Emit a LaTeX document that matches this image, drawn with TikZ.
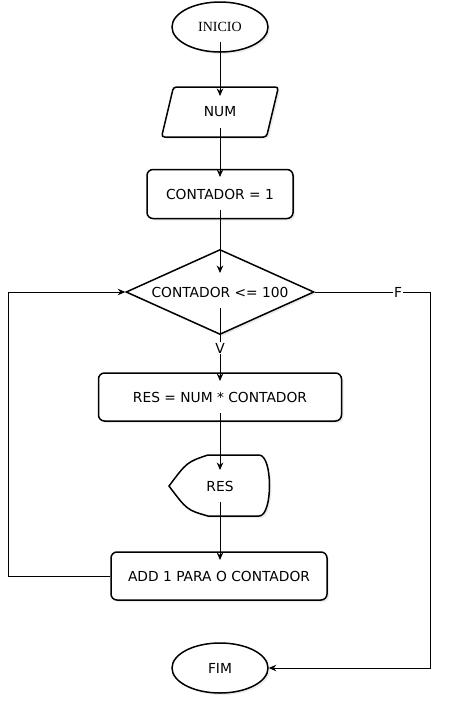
\documentclass[tikz,border=0pt]{standalone}
\usepackage{fontspec}
\setmainfont{DejaVu Sans}
\newfontfamily\inicioFont{Liberation Serif}
\usetikzlibrary{shapes.geometric,arrows.meta,shadows}

\tikzset{
  sombra/.style={drop shadow={opacity=0.15, shadow xshift=2pt, shadow yshift=-2pt}},
  texto/.style={font=\fontsize{13.8}{16}\selectfont},
  caixa/.style={draw, line width=1.5pt, rounded corners=6pt, fill=white, sombra, texto},
  terminal/.style={draw, ellipse, line width=1.5pt, fill=white, sombra, minimum width=96pt, minimum height=50pt, inner sep=0pt},
  entrada/.style={draw, trapezium, trapezium left angle=68, trapezium right angle=112, trapezium stretches=true, line width=1.5pt, rounded corners=3pt, fill=white, sombra, minimum width=117pt, minimum height=50pt, inner sep=0pt, texto},
  decisao/.style={draw, diamond, aspect=2.2, line width=1.5pt, fill=white, sombra, minimum width=188pt, minimum height=85pt, inner sep=0pt, texto},
  seta/.style={-{Stealth[length=7.5pt,width=6.5pt]}, line width=1pt},
  rotulo/.style={fill=white, inner sep=1pt, texto}
}

\begin{document}
\begin{tikzpicture}[x=1pt, y=-1pt]
% Fix the page size
\useasboundingbox (0,0) rectangle (450,705);

% Draw the blocks
\node[terminal, font=\inicioFont\fontsize{14}{16}\selectfont] (inicio) at (220,27) {INICIO};
\node[entrada] (num) at (220,112) {NUM};
\node[caixa, minimum width=146pt, minimum height=49pt] (cont) at (220,194) {CONTADOR = 1};
\node[decisao] (cond) at (220,292) {CONTADOR <= 100};
\node[caixa, minimum width=243pt, minimum height=48pt] (calc) at (220,397) {RES = NUM * CONTADOR};

% Display shape around RES
\begin{scope}[shift={(220,486)}]
\draw[line width=1.5pt, fill=white, sombra] (-12,-31) -- (39,-31) .. controls (53,-31) and (53,30) .. (39,30) -- (-12,30)
  .. controls (-33,24) .. (-51,0) .. controls (-33,-24) .. cycle;
\end{scope}
\node[texto, inner sep=0pt] (res) at (220,486) {RES};

\node[caixa, minimum width=216pt, minimum height=48pt] (add) at (219,576) {ADD 1 PARA O CONTADOR};
\node[terminal, texto] (fim) at (220,668) {FIM};

% Draw the connectors
\draw[seta] ([yshift=-15pt]inicio.center) -- ([yshift=16pt]num.center);
\draw[seta] ([yshift=-16pt]num.center) -- ([yshift=17pt]cont.center);
\draw[seta] ([yshift=-16pt]cont.center) -- ([yshift=19pt]cond.center);
\draw[seta] ([yshift=-16pt]cond.center) -- ([yshift=16pt]calc.center);
\draw[seta] ([yshift=-16pt]calc.center) -- ([yshift=16pt]res.center);
\draw[seta] ([yshift=-16pt]res.center) -- ([yshift=16pt]res.center |- add.center);
\draw[seta] (add.west) -- (8,576) |- (cond.west);
\draw[seta] (cond.east) -- (430,292) |- (fim.east);

% Labels on the branches
\node[rotulo] (v) at (220,348) {V};
\node[rotulo] (f) at (398,292) {F};
\end{tikzpicture}
\end{document}
